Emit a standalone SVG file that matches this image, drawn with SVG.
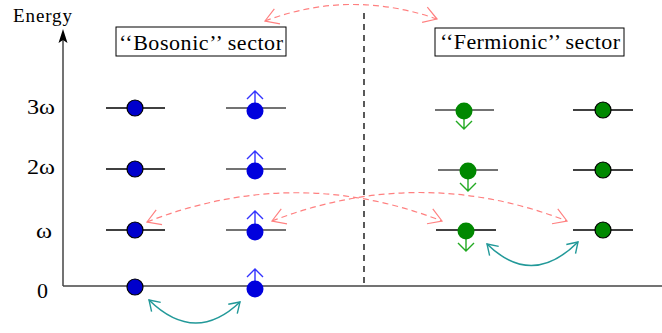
<svg xmlns="http://www.w3.org/2000/svg" width="662" height="333" viewBox="0 0 662 333">
<style>
.t{font-family:"Liberation Serif","Times New Roman",serif;fill:#000}
.lvl{stroke:#000;stroke-width:1.3}
.lvl2{stroke:#444;stroke-width:1.3}
.bc{fill:#0000cc;stroke:#000;stroke-width:1.2}
.bs{fill:#0000dd}
.gc{fill:#008800;stroke:#000;stroke-width:1.2}
.gs{fill:#008800}
.up{stroke:#3333ff;stroke-width:1.4;fill:none}
.dn{stroke:#22aa22;stroke-width:1.4;fill:none}
.pink{stroke:#ff8080;stroke-width:1.2;fill:none;stroke-dasharray:6,4}
.teal{stroke:#229999;stroke-width:1.5;fill:none}
.box{fill:#fff;stroke:#000;stroke-width:1}
</style>
<defs>
<marker id="pa" markerUnits="userSpaceOnUse" markerWidth="20" markerHeight="20" viewBox="-14 -10 16 20" refX="0" refY="0" orient="auto-start-reverse">
<path d="M-13,-8 L0,0 L-13,8" fill="none" stroke="#ff8080" stroke-width="1.2"/>
</marker>
<marker id="ta" markerUnits="userSpaceOnUse" markerWidth="16" markerHeight="16" viewBox="-11 -8 13 16" refX="0" refY="0" orient="auto-start-reverse">
<path d="M-10,-6.5 L0,0 L-10,6.5" fill="none" stroke="#229999" stroke-width="1.4"/>
</marker>
</defs>
<rect width="662" height="333" fill="#fff"/>

<g id="axes">
<line x1="63" y1="286" x2="63" y2="40" stroke="#444" stroke-width="1.5"/>
<path d="M63,29 L67.5,43 L63,40 L58.5,43 Z" fill="#000"/>
<line x1="63" y1="286" x2="662" y2="286" stroke="#444" stroke-width="1.5"/>
<text class="t" x="13" y="22" font-size="19" textLength="59">Energy</text>
<text class="t" x="27" y="114" font-size="22" textLength="28" lengthAdjust="spacingAndGlyphs">3ω</text>
<text class="t" x="27" y="174" font-size="22" textLength="28" lengthAdjust="spacingAndGlyphs">2ω</text>
<text class="t" x="36" y="238" font-size="22" textLength="16" lengthAdjust="spacingAndGlyphs">ω</text>
<text class="t" x="37" y="298" font-size="22">0</text>
</g>

<line id="divider" x1="364" y1="13" x2="364" y2="286" stroke="#000" stroke-width="1.3" stroke-dasharray="6,5"/>

<g id="bosonic-label">
<rect class="box" x="116" y="27" width="170" height="29"/>
<text class="t" x="119" y="50" font-size="22" textLength="164">‘‘Bosonic’’ sector</text>
</g>
<g id="fermionic-label">
<rect class="box" x="435" y="28" width="189" height="28"/>
<text class="t" x="440" y="49" font-size="22" textLength="180">‘‘Fermionic’’ sector</text>
</g>

<g id="b0-3">
<line class="lvl" x1="106" y1="108" x2="165" y2="108"/>
<circle class="bc" cx="135" cy="108" r="8"/>
</g>
<g id="b0-2">
<line class="lvl" x1="106" y1="169" x2="165" y2="169"/>
<circle class="bc" cx="135" cy="169" r="8"/>
</g>
<g id="b0-1">
<line class="lvl" x1="106" y1="230" x2="165" y2="230"/>
<circle class="bc" cx="135" cy="230" r="8"/>
</g>
<g id="b0-0">
<circle class="bc" cx="135" cy="287" r="8"/>
</g>

<g id="b1-3">
<line class="lvl2" x1="226" y1="108" x2="286" y2="108"/>
<path class="up" d="M255,104 V91 M247,99 L255,91 L263,99"/>
<circle class="bs" cx="255" cy="111" r="8.5"/>
</g>
<g id="b1-2">
<line class="lvl2" x1="226" y1="169" x2="286" y2="169"/>
<path class="up" d="M255,164 V151 M247,159 L255,151 L263,159"/>
<circle class="bs" cx="255" cy="171" r="8.5"/>
</g>
<g id="b1-1">
<line class="lvl2" x1="226" y1="230" x2="286" y2="230"/>
<path class="up" d="M255,225 V211 M247,219 L255,211 L263,219"/>
<circle class="bs" cx="255" cy="232" r="8.5"/>
</g>
<g id="b1-0">
<path class="up" d="M255,282 V269 M247,277 L255,269 L263,277"/>
<circle class="bs" cx="255" cy="289" r="8.5"/>
</g>

<g id="f0-3">
<line class="lvl2" x1="435" y1="110" x2="494" y2="110"/>
<path class="dn" d="M464,118 V129 M456,121 L464,129 L472,121"/>
<circle class="gs" cx="464" cy="111" r="8.5"/>
</g>
<g id="f0-2">
<line class="lvl2" x1="438" y1="170" x2="498" y2="170"/>
<path class="dn" d="M468,178 V191 M460,183 L468,191 L476,183"/>
<circle class="gs" cx="468" cy="171" r="8.5"/>
</g>
<g id="f0-1">
<line class="lvl" x1="436" y1="230" x2="496" y2="230"/>
<path class="dn" d="M466,238 V251 M458,243 L466,251 L474,243"/>
<circle class="gs" cx="466" cy="231" r="8.5"/>
</g>

<g id="f1-3">
<line class="lvl" x1="573" y1="110" x2="633" y2="110"/>
<circle class="gc" cx="603" cy="110" r="8"/>
</g>
<g id="f1-2">
<line class="lvl" x1="573" y1="170" x2="633" y2="170"/>
<circle class="gc" cx="603" cy="170" r="8"/>
</g>
<g id="f1-1">
<line class="lvl" x1="573" y1="230" x2="633" y2="230"/>
<circle class="gc" cx="603" cy="230" r="8"/>
</g>

<g id="connectors">
<path class="pink" d="M265,21 Q350,-11 437,19" marker-start="url(#pa)" marker-end="url(#pa)"/>
<path class="pink" d="M147,222 Q295,164 442,221" marker-start="url(#pa)" marker-end="url(#pa)"/>
<path class="pink" d="M272,221 Q420,164 567,221" marker-start="url(#pa)" marker-end="url(#pa)"/>
<path class="teal" d="M149,300 Q195,345 240,302" marker-start="url(#ta)" marker-end="url(#ta)"/>
<path class="teal" d="M487,244 Q532,288 578,242" marker-start="url(#ta)" marker-end="url(#ta)"/>
</g>
</svg>
